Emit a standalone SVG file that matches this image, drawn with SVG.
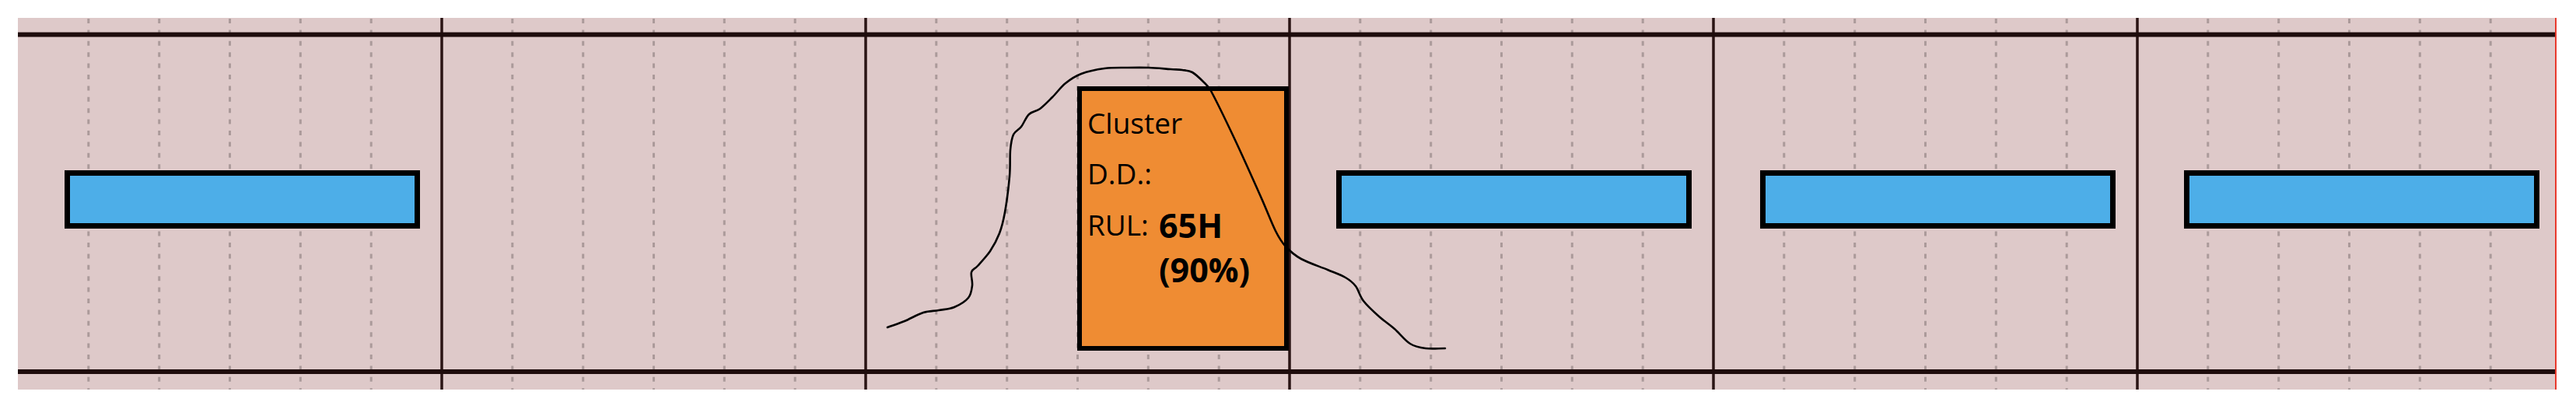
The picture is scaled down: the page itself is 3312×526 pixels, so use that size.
<svg xmlns="http://www.w3.org/2000/svg" width="3312" height="526" viewBox="0 0 3312 526">
<style>
.bg{fill:#dec9c9}
.grid{stroke:#ab9a9a;stroke-width:3;stroke-dasharray:6 8.4;fill:none}
.major{stroke:#2a1414;stroke-width:3.5;fill:none}
.hline{stroke:#1e0c0c;stroke-width:6;fill:none}
.blue{fill:#4daee8;stroke:#000;stroke-width:7}
.orange{fill:#ef8c33;stroke:#000;stroke-width:6}
.lbl{font-family:"Open Sans","Liberation Sans",sans-serif;font-size:37px;fill:#000}
.big{font-family:"Open Sans","Liberation Sans",sans-serif;font-size:43px;font-weight:bold;fill:#000}
.curve{fill:none;stroke:#000;stroke-width:2.6;stroke-linecap:round;stroke-linejoin:round}
</style>
<rect x="0" y="0" width="3312" height="526" fill="#ffffff"/>
<rect class="bg" x="23" y="23" width="3262" height="478"/>
<g id="grid-minor">
<path class="grid" d="M113.8 24V501M204.7 24V501M295.5 24V501M386.3 24V501M477.2 24V501
M658.8 24V501M749.7 24V501M840.5 24V501M931.3 24V501M1022.2 24V501
M1203.8 24V501M1294.7 24V501M1385.5 24V501M1476.3 24V501M1567.2 24V501
M1748.8 24V501M1839.7 24V501M1930.5 24V501M2021.3 24V501M2112.2 24V501
M2293.8 24V501M2384.7 24V501M2475.5 24V501M2566.3 24V501M2657.2 24V501
M2838.8 24V501M2929.7 24V501M3020.5 24V501M3111.3 24V501M3202.2 24V501"/>
</g>
<g id="grid-major">
<path class="major" d="M568 23V501M1113 23V501M1658 23V501M2203 23V501M2748 23V501"/>
<path class="hline" d="M23 44.5H3285M23 478H3285"/>
<line x1="3286" y1="23" x2="3286" y2="501" stroke="#e8392c" stroke-width="2"/>
</g>
<g id="node-1"><rect class="blue" x="86.5" y="222.5" width="450" height="68"/></g>
<g id="node-2"><rect class="blue" x="1721.5" y="222.5" width="450" height="68"/></g>
<g id="node-3"><rect class="blue" x="2266.5" y="222.5" width="450" height="68"/></g>
<g id="node-4"><rect class="blue" x="2811.5" y="222.5" width="450" height="68"/></g>
<g id="cluster">
<rect class="orange" x="1388" y="114" width="266" height="334"/>
<text class="lbl" x="1398" y="172">Cluster</text>
<text class="lbl" x="1398" y="237">D.D.:</text>
<text class="lbl" x="1398" y="303">RUL:</text>
<text class="big" x="1490" y="306">65H</text>
<text class="big" x="1490" y="363">(90%)</text>
</g>
<g id="connectors">
<path class="curve" d="M1141 421 C1148.3 418.3 1155.3 416.2 1163 413 C1170.7 409.8 1179.7 404.3 1187 402 C1194.3 399.7 1200.3 400.2 1207 399 C1213.7 397.8 1220.7 397.7 1227 395 C1233.3 392.3 1241.2 387.7 1245 383 C1248.8 378.3 1249.3 372.5 1250 367 C1250.7 361.5 1247.8 354.2 1249 350 C1250.2 345.8 1253 346.5 1257 342 C1261 337.5 1268.3 330 1273 323 C1277.7 316 1281.8 308.3 1285 300 C1288.2 291.7 1289.8 285.2 1292 273 C1294.2 260.8 1296.8 240.3 1298 227 C1299.2 213.7 1298.2 202 1299 193 C1299.8 184 1300.7 178 1303 173 C1305.3 168 1309.7 167.3 1313 163 C1316.3 158.7 1319 150.8 1323 147 C1327 143.2 1332 143.7 1337 140 C1342 136.3 1347.5 130.5 1353 125 C1358.5 119.5 1363.8 112 1370 107 C1376.2 102 1381.7 98.2 1390 95 C1398.3 91.8 1410 89.3 1420 88 C1430 86.7 1440.5 87.2 1450 87 C1459.5 86.8 1467.8 86.7 1477 87 C1486.2 87.3 1497.8 88.5 1505 89 C1512.2 89.5 1515.3 89.3 1520 90 C1524.7 90.7 1528.5 90.5 1533 93 C1537.5 95.5 1543 101 1547 105 C1551 109 1553.5 110.5 1557 117 C1560.5 123.5 1576.3 155.3 1587 178 C1597.7 200.7 1612.2 233.2 1621 253 C1629.8 272.8 1634.7 286.3 1640 297 C1645.3 307.7 1647.5 311 1653 317 C1658.5 323 1664 328 1673 333 C1682 338 1697.5 343 1707 347 C1716.5 351 1724 353.5 1730 357 C1736 360.5 1739.2 363 1743 368 C1746.8 373 1748 380.5 1753 387 C1758 393.5 1766.3 401 1773 407 C1779.7 413 1786.3 417.2 1793 423 C1799.7 428.8 1806.3 437.8 1813 442 C1819.7 446.2 1825.5 447 1833 448 C1840.5 449 1849.7 448 1858 448"/>
</g>
</svg>
